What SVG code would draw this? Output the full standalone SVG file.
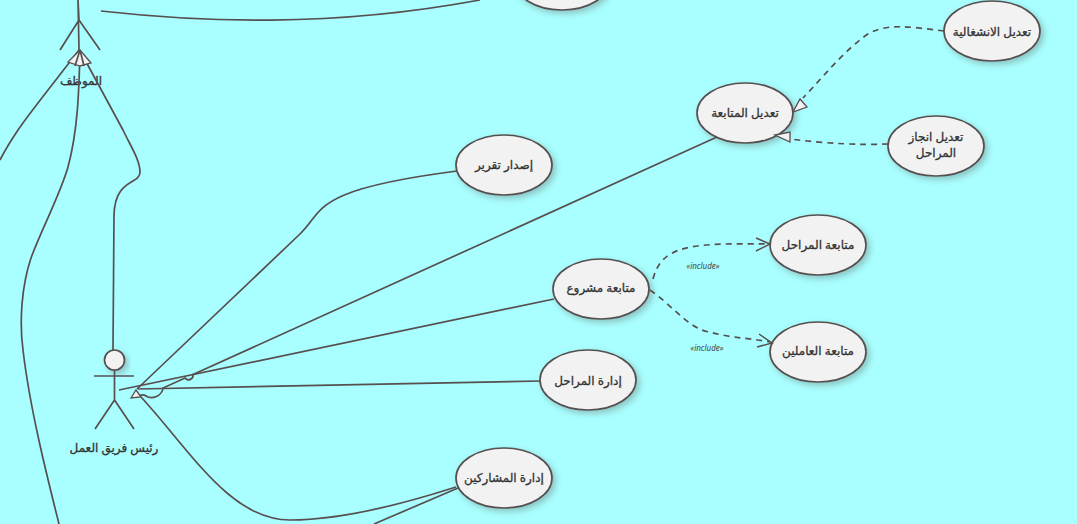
<svg xmlns="http://www.w3.org/2000/svg" width="1077" height="524" viewBox="0 0 1077 524">
<style>
.c{fill:none;stroke:#574f4f;stroke-width:1.7}
.d{fill:none;stroke:#574f4f;stroke-width:1.7;stroke-dasharray:6 5}
.h{fill:#f2f2f2;stroke:#574f4f;stroke-width:1.3}
.o{fill:none;stroke:#574f4f;stroke-width:1.5}
.u{fill:#f2f2f2;stroke:#574f4f;stroke-width:1.7;filter:url(#s)}
.t{font-family:"Noto Sans","DejaVu Sans",sans-serif;font-size:12px;fill:#333;stroke:#333;stroke-width:.3;text-anchor:middle}
.i{font-family:"Noto Sans","DejaVu Sans",sans-serif;font-size:8px;font-style:italic;fill:#444;text-anchor:middle}
</style>
<defs>
<filter id="s" x="-20%" y="-20%" width="150%" height="150%"><feDropShadow dx="3" dy="3" stdDeviation="3" flood-color="#555" flood-opacity=".35"/></filter>
</defs>
<rect width="1077" height="524" fill="#a9ffff"/>
<g id="actor-employee">
<path class="c" d="M78 0L79 20M79 20L60 50M79 20L100 50M78 0L79 50"/>
<text class="t" x="81" y="85" direction="rtl">الموظف</text>
</g>
<g id="actor-lead">
<circle class="u" cx="114.500" cy="360" r="10"/>
<path class="c" d="M114.500 370V400M94 376H134M114.500 400L95 429M114.500 400L134 429"/>
<text class="t" x="114" y="452" direction="rtl">رئيس فريق العمل</text>
</g>
<g id="uc-top"><ellipse class="u" cx="562" cy="-20" rx="48" ry="30"/></g>
<g id="uc-report"><ellipse class="u" cx="504" cy="165" rx="48" ry="30"/><text class="t" x="504" y="169" direction="rtl">إصدار تقرير</text></g>
<g id="uc-edit-follow"><ellipse class="u" cx="745" cy="113" rx="48" ry="30"/><text class="t" x="745" y="117" direction="rtl">تعديل المتابعة</text></g>
<g id="uc-edit-work"><ellipse class="u" cx="992" cy="31" rx="48" ry="30"/><text class="t" x="992" y="36" direction="rtl">تعديل الانشغالية</text></g>
<g id="uc-edit-stage"><ellipse class="u" cx="936" cy="146" rx="48" ry="30"/><text class="t" x="936" y="141" direction="rtl">تعديل انجاز</text><text class="t" x="936" y="157" direction="rtl">المراحل</text></g>
<g id="uc-follow"><ellipse class="u" cx="601" cy="289" rx="48" ry="30"/><text class="t" x="601" y="292" direction="rtl">متابعة مشروع</text></g>
<g id="uc-follow-stages"><ellipse class="u" cx="818" cy="245" rx="48" ry="30"/><text class="t" x="818" y="249" direction="rtl">متابعة المراحل</text></g>
<g id="uc-follow-workers"><ellipse class="u" cx="818" cy="352" rx="48" ry="30"/><text class="t" x="818" y="355" direction="rtl">متابعة العاملين</text></g>
<g id="uc-stages"><ellipse class="u" cx="588" cy="380" rx="48" ry="30"/><text class="t" x="588" y="385" direction="rtl">إدارة المراحل</text></g>
<g id="uc-members"><ellipse class="u" cx="504" cy="478" rx="48" ry="30"/><text class="t" x="504" y="482" direction="rtl">إدارة المشاركين</text></g>
<g id="connectors">
<path class="c" d="M101 11C200 22 330 28 480 0"/>
<path class="c" d="M79 50C60 75 30 112 18 130C10 142 5 150 0 160"/>
<path class="c" d="M80 50C79 90 78 130 68 167C60 195 42 228 31 258C22 285 19 320 23 350C30 410 48 480 59 524"/>
<path class="c" d="M84 58L123 130C130 145 140 160 140 172C140 185 115 178 114 215L113 350"/>
<path class="c" d="M137 389L300 234C325 210 310 190 457 171"/>
<path class="c" d="M717 137L193 374.500A4.500 4.500 0 0 1 185 378L163 388C162 396 152 400 146 396C143 394 140 395 137 397"/>
<path class="c" d="M119 390L554 299"/>
<path class="c" d="M138 389L541 381"/>
<path class="c" d="M141 397C190 450 230 520 290 520C340 520 400 505 456 487"/>
<path class="c" d="M374 524L458 488"/>
<polygon class="h" points="131,398 136,390 141,397"/>
<polygon class="h" points="80,50 68,62 80,66 91,63"/>
<path class="c" d="M80 50L75 66M80 50L84 66"/>
<path class="d" d="M944 31C910 27 885 22 865 36C840 55 825 75 803 98"/>
<polygon class="h" points="793,112 800,99 807,107"/>
<path class="d" d="M888 144C860 145 830 144 790 139"/>
<polygon class="h" points="775,135 790,132 790,142"/>
<path class="d" d="M653 279C662 245 690 243 768 244"/>
<path class="o" d="M756 238L770 244L756 251"/>
<path class="d" d="M650 290C672 305 690 330 710 332C730 338 750 338 770 342"/>
<path class="o" d="M759 334L772 343L757 347"/>
</g>
<g id="labels">
<text class="i" x="703" y="269">«include»</text>
<text class="i" x="707" y="351">«include»</text>
</g>
</svg>
